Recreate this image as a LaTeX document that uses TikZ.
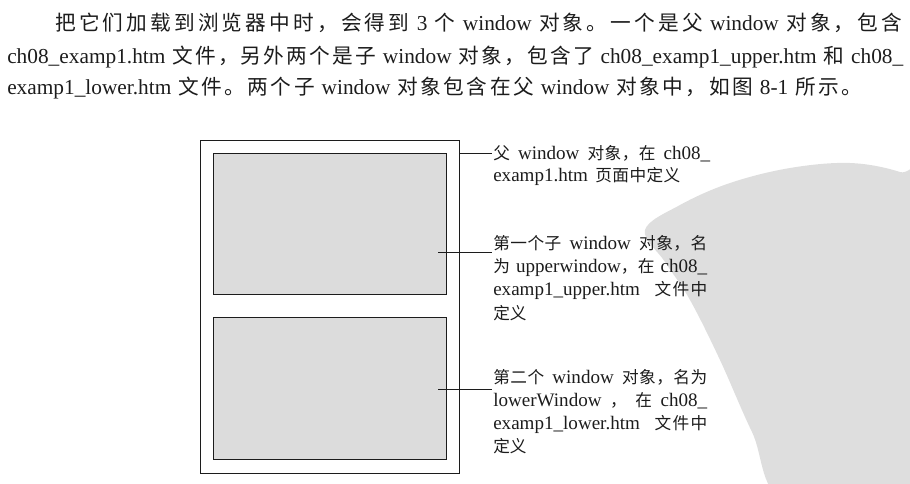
\documentclass[tikz,border=0pt]{standalone}
\usepackage{fontspec}
\setmainfont{Liberation Serif}
\newfontfamily\cjk{Noto Sans CJK SC}
\newdimen\px \px=0.75pt
\def\zhsize{12pt}
\def\zhstretch{1pt}
\newcommand\zh[1]{{\cjk\fontsize{\zhsize}{\zhsize}\selectfont #1}}
\newXeTeXintercharclass\myzhclass
\makeatletter
\count@="3000
\loop
  \XeTeXcharclass\count@=\myzhclass
  \advance\count@ by 1
\ifnum\count@<"A000 \repeat
\count@="FF00
\loop
  \XeTeXcharclass\count@=\myzhclass
  \advance\count@ by 1
\ifnum\count@<"FFF0 \repeat
\makeatother
\XeTeXinterchartokenstate=1
\XeTeXinterchartoks\myzhclass\myzhclass={\hskip 0pt plus \zhstretch\relax}
\definecolor{ink}{HTML}{1C1C1C}
\definecolor{paneFill}{HTML}{DCDCDC}
\definecolor{wmark}{HTML}{DEDEDE}
\begin{document}
\begin{tikzpicture}[x=0.75pt,y=-0.75pt,
  partext/.style={anchor=base west,inner sep=0pt,text=ink,
    font=\fontsize{16pt}{18pt}\selectfont\def\zhsize{15.5pt}\def\zhstretch{3pt}},
  lbl/.style={anchor=base west,inner sep=0pt,text=ink,
    font=\fontsize{14.3pt}{16pt}\selectfont\def\zhsize{12.5pt}\def\zhstretch{0.25pt}},
  frame/.style={draw=ink,line width=0.8pt,inner sep=0pt,anchor=north west},
  pane/.style={draw=ink,fill=paneFill,line width=1pt,inner sep=0pt,anchor=north west},
  leader/.style={draw=ink,line width=0.6pt}]
\useasboundingbox (0,0) rectangle (910,483);
% watermark blob
\fill[wmark] plot[smooth cycle,tension=0.6] coordinates {(645,230) (680,205) (730,183) (790,168) (850,163) (900,172) (935,190) (935,505) (790,505) (752,432) (720,360) (690,300) (665,262)};
% paragraph
\node[partext] (par1) at (55,30.6) {\makebox[847\px][s]{\zh{把它们加载到浏览器中时，会得到} 3 \zh{个} window \zh{对象。一个是父} window \zh{对象，包含}}};
\node[partext] (par2) at (7,63.6) {\makebox[896\px][s]{ch08\_examp1.htm \zh{文件，另外两个是子} window \zh{对象，包含了} ch08\_examp1\_upper.htm \zh{和} ch08\_}};
\node[partext] (par3) at (7,94.6) {\makebox[855\px][s]{examp1\_lower.htm \zh{文件。两个子} window \zh{对象包含在父} window \zh{对象中，如图} 8-1 \zh{所示。}}};
% window boxes
\node[frame,minimum width=194.25pt,minimum height=249.75pt] (outer) at (200,140) {};
\node[pane,minimum width=174.75pt,minimum height=105.75pt] (upper) at (213,153) {};
\node[pane,minimum width=174.75pt,minimum height=106.5pt] (lower) at (213,317) {};
% labels
\node[lbl] (t1a) at (493,159) {\makebox[217\px][s]{\zh{父} window \zh{对象，在} ch08\_}};
\node[lbl] (t1b) at (493,181.5) {\makebox[187\px][s]{examp1.htm \zh{页面中定义}}};
\node[lbl] (t2a) at (493,249) {\makebox[214\px][s]{\zh{第一个子} window \zh{对象，名}}};
\node[lbl] (t2b) at (493,272.3) {\makebox[214\px][s]{\zh{为} upperwindow\zh{，在} ch08\_}};
\node[lbl] (t2c) at (493,295.7) {\makebox[214\px][s]{examp1\_upper.htm \zh{文件中}}};
\node[lbl] (t2d) at (493,319) {\zh{定义}};
\node[lbl] (t3a) at (493,383) {\makebox[214\px][s]{\zh{第二个} window \zh{对象，名为}}};
\node[lbl] (t3b) at (493,406) {\makebox[214\px][s]{lowerWindow \zh{，} \zh{在} ch08\_}};
\node[lbl] (t3c) at (493,429) {\makebox[214\px][s]{examp1\_lower.htm \zh{文件中}}};
\node[lbl] (t3d) at (493,452) {\zh{定义}};
% leaders
\coordinate (l1e) at (492,153);
\coordinate (l2s) at (438,252);
\coordinate (l2e) at (492,252);
\coordinate (l3s) at (438,389);
\coordinate (l3e) at (492,389);
\draw[leader] (outer.east |- l1e) -- (l1e);
\draw[leader] (l2s) -- (l2e);
\draw[leader] (l3s) -- (l3e);
\end{tikzpicture}
\end{document}
